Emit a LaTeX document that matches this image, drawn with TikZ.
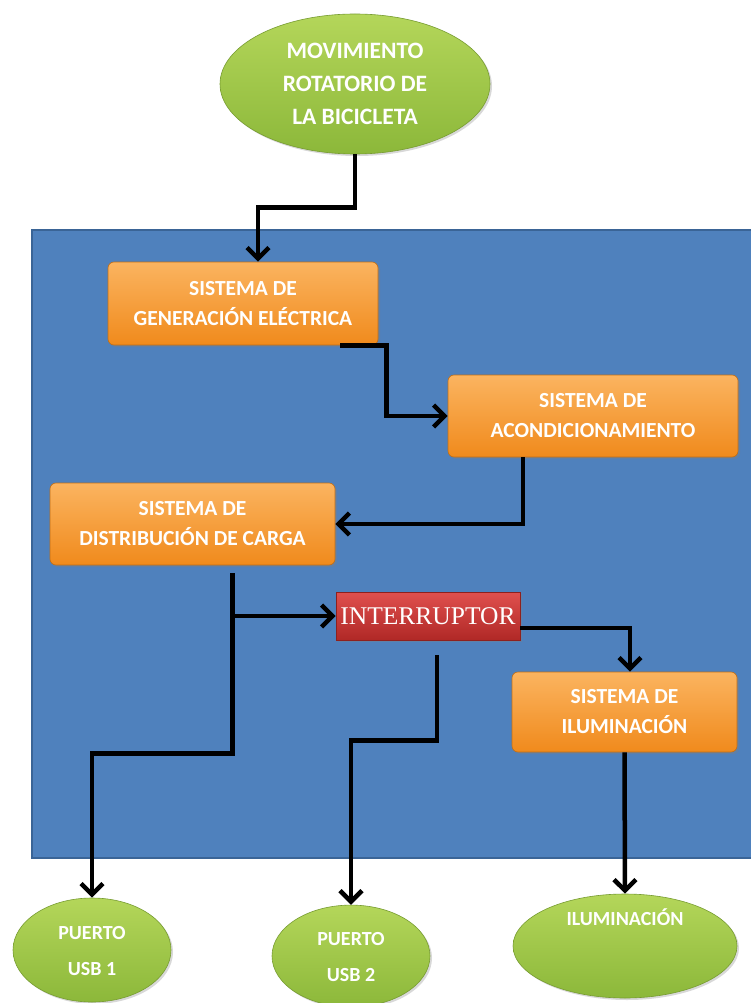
\documentclass[tikz,border=0pt]{standalone}
\usepackage{fontspec}
\setmainfont{Carlito}
\newfontfamily\serifint{Liberation Serif}
\usetikzlibrary{arrows.meta,shapes.geometric,shadows,calc}
\definecolor{bluebg}{HTML}{4F81BD}
\definecolor{blueedge}{HTML}{3A6496}
\definecolor{orTop}{HTML}{FBB460}
\definecolor{orBot}{HTML}{F08A1C}
\definecolor{grTop}{HTML}{B4D65A}
\definecolor{grBot}{HTML}{8CB83A}
\definecolor{redTop}{HTML}{E0504E}
\definecolor{redBot}{HTML}{B02826}
\tikzset{
  sysbox/.style={rectangle, rounded corners=6pt, top color=orTop, bottom color=orBot,
    draw=orBot!80!black, line width=0.6pt, text=white, font=\bfseries\fontsize{21.5}{30}\selectfont,
    align=center, inner sep=0pt, drop shadow={opacity=0.35,shadow xshift=2pt,shadow yshift=-2pt}},
  oval/.style={ellipse, top color=grTop, bottom color=grBot, draw=grBot!85!black, line width=0.6pt,
    text=white, font=\bfseries\fontsize{23.5}{33}\selectfont, align=center, inner sep=0pt,
    drop shadow={opacity=0.3,shadow xshift=2pt,shadow yshift=-2pt}},
  smalloval/.style={oval, font=\bfseries\fontsize{20}{36}\selectfont},
  arr/.style={line width=4.5pt, -{Straight Barb[length=11pt,width=22pt]}, black},
  wire/.style={line width=4.5pt, black}
}
\begin{document}
\begin{tikzpicture}[x=1pt,y=-1pt]
\useasboundingbox (0,0) rectangle (750,1003);
\fill[white] (0,0) rectangle (750,1003);
% blue panel
\draw[fill=bluebg, draw=blueedge, line width=1.5pt] (32,230) rectangle (770,858);
% nodes
\node[oval, minimum width=270pt, minimum height=140pt] (mov) at (355,84) {MOVIMIENTO\\ROTATORIO DE\\LA BICICLETA};
\node[sysbox, minimum width=270pt, minimum height=83pt] (gen) at (243,303.5) {SISTEMA DE\\GENERACIÓN ELÉCTRICA};
\node[sysbox, minimum width=290pt, minimum height=82pt] (acond) at (593,416) {SISTEMA DE\\ACONDICIONAMIENTO};
\node[sysbox, minimum width=285pt, minimum height=82pt] (distrib) at (192.5,524) {SISTEMA DE\\DISTRIBUCIÓN DE CARGA};
\node[rectangle, top color=redTop, bottom color=redBot, draw=redBot!80!black, line width=0.6pt,
  minimum width=184pt, minimum height=48pt, inner sep=0pt, text=white,
  font=\serifint\fontsize{25.5}{28}\selectfont,
  drop shadow={opacity=0.35,shadow xshift=2pt,shadow yshift=-2pt}] (intr) at (428,616) {INTERRUPTOR};
\node[sysbox, minimum width=225pt, minimum height=80pt] (ilum) at (624.5,712) {SISTEMA DE\\ILUMINACIÓN};
\node[smalloval, minimum width=158pt, minimum height=104pt] (usb1) at (92,950) {\raisebox{4pt}{\begin{tabular}{@{}c@{}}PUERTO\\USB 1\end{tabular}}};
\node[smalloval, minimum width=158pt, minimum height=100pt] (usb2) at (351,956) {\raisebox{4pt}{\begin{tabular}{@{}c@{}}PUERTO\\USB 2\end{tabular}}};
\node[smalloval, minimum width=224pt, minimum height=104pt] (ilumo) at (625,946) {\raisebox{21pt}[0pt][0pt]{ILUMINACIÓN}};
% connectors
\draw[arr] (mov.south) -- ++(0,53) -| ([xshift=15pt]gen.north);
\draw[arr] ([xshift=-38pt]gen.south east) -- ++(46,0) |- (acond.west);
\draw[arr] ([xshift=-70pt]acond.south) |- (distrib.east);
\coordinate (dstart) at ([xshift=40pt,yshift=-8pt]distrib.south);
\coordinate (junc) at (dstart |- intr.west);
\draw[arr] (dstart) -- ++(0,180) -| (usb1.north);
\draw[arr] (junc) -- (intr.west);
\draw[arr] ([xshift=9pt,yshift=-15pt]intr.south) -- ++(0,85) -| (usb2.north);
\draw[arr] ([yshift=-12pt]intr.east) -| ([xshift=5.5pt]ilum.north);
\draw[arr] (ilum.south) -- (ilumo.north);
\end{tikzpicture}
\end{document}
